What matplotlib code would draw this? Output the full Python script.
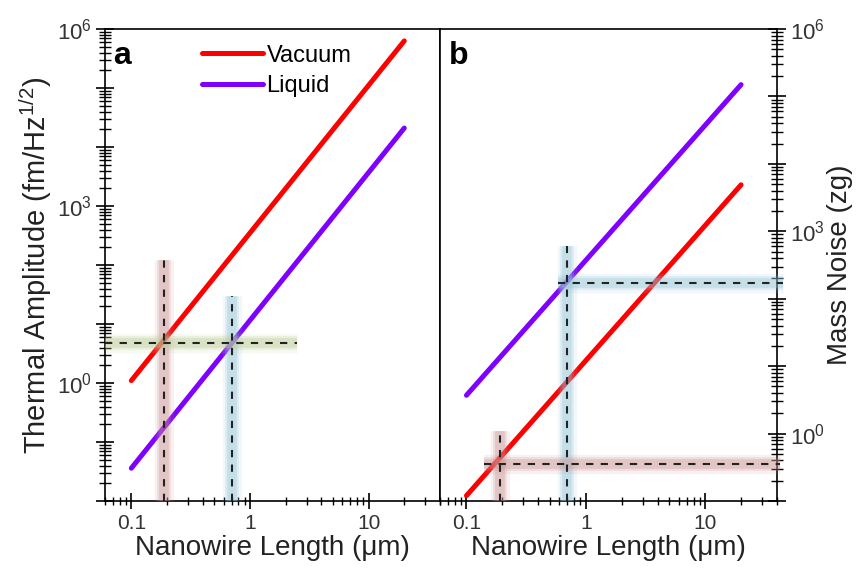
import matplotlib
matplotlib.use('Agg')
import matplotlib.pyplot as plt
from matplotlib.ticker import LogLocator, FuncFormatter, NullFormatter
import numpy as np

plt.rcParams['font.family'] = ['Liberation Sans', 'DejaVu Sans']
plt.rcParams['mathtext.fontset'] = 'custom'
plt.rcParams['mathtext.rm'] = 'Liberation Sans'
plt.rcParams['mathtext.it'] = 'Liberation Sans:italic'
plt.rcParams['mathtext.bf'] = 'Liberation Sans:bold'

# values (end points of the straight log-log lines)
length_um = [0.1, 20]
amp_vacuum = [1.1, 6.3e5]
amp_liquid = [0.036, 2.1e4]
mass_vacuum = [0.12, 4.9e3]
mass_liquid = [3.7, 1.5e5]

# guide lines: (x0, x1, y0, y1, band colour)
guides_a = [
    (0.19, 0.19, 0.01, 120, '#c98f8f'),
    (0.70, 0.70, 0.01, 30, '#8fc3d6'),
    (0.06, 2.5, 4.8, 4.8, '#b9c98f'),
]
guides_b = [
    (0.70, 0.70, 0.1, 600, '#8fc3d6'),
    (0.58, 45, 170, 170, '#8fc3d6'),
    (0.19, 0.19, 0.1, 1.1, '#c98f8f'),
    (0.14, 42, 0.36, 0.36, '#c98f8f'),
]

red = '#ff0000'
violet = '#7f00ff'

fig = plt.figure(figsize=(8.58, 5.70), dpi=100)
ax1 = fig.add_axes([0.1224, 0.121, 0.3904, 0.828])
ax2 = fig.add_axes([0.5128, 0.121, 0.3928, 0.828])


def decade_fmt(v, pos):
    e = int(round(np.log10(v)))
    if e % 3 == 0:
        return r'$10^{%d}$' % e
    return ''


def x_fmt(v, pos):
    if 0.05 < v < 50:
        return '%g' % v
    return ''


def style(ax, side):
    ax.set_xscale('log')
    ax.set_yscale('log')
    ax.set_xlim(0.06, 40)
    ax.xaxis.set_major_locator(LogLocator(base=10, numticks=10))
    ax.xaxis.set_minor_locator(LogLocator(base=10, subs=np.arange(2, 10), numticks=20))
    ax.xaxis.set_minor_formatter(NullFormatter())
    ax.xaxis.set_major_formatter(FuncFormatter(x_fmt))
    ax.yaxis.set_major_locator(LogLocator(base=10, numticks=20))
    ax.yaxis.set_minor_locator(LogLocator(base=10, subs=np.arange(2, 10), numticks=30))
    ax.yaxis.set_minor_formatter(NullFormatter())
    ax.yaxis.set_major_formatter(FuncFormatter(decade_fmt))
    ax.tick_params(axis='x', which='major', direction='inout', length=12, width=1.2,
                   labelsize=15, top=False, pad=3, labelcolor='#333333')
    ax.tick_params(axis='x', which='minor', direction='inout', length=6, width=1.0, top=False)
    if side == 'left':
        ax.tick_params(axis='y', which='both', left=True, right=False, labelleft=True, labelright=False)
    else:
        ax.tick_params(axis='y', which='both', left=False, right=True, labelleft=False, labelright=True)
    ax.tick_params(axis='y', which='major', direction='inout', length=13, width=1.2, labelsize=16,
                   pad=3, labelcolor='#333333')
    ax.tick_params(axis='y', which='minor', direction='inout', length=8, width=1.0)
    for s in ax.spines.values():
        s.set_linewidth(1.2)
    ax.set_xlabel('Nanowire Length (\u03bcm)', fontsize=20, labelpad=2, color='#222222')


def guide(ax, g):
    x0, x1, y0, y1, c = g
    for lw, a in [(14, 0.12), (10, 0.2), (7, 0.3)]:
        ax.plot([x0, x1], [y0, y1], color=c, lw=lw, alpha=a, solid_capstyle='butt',
                zorder=4, clip_on=False)
    ax.plot([x0, x1], [y0, y1], color='#222222', lw=1.5, ls=(0, (3.5, 3.5)), zorder=5,
            clip_on=False)


# panel a
style(ax1, 'left')
ax1.set_ylim(0.01, 1e6)
ax1.plot(length_um, amp_vacuum, color=red, lw=3.6, solid_capstyle='round', label='Vacuum', zorder=3)
ax1.plot(length_um, amp_liquid, color=violet, lw=3.6, solid_capstyle='round', label='Liquid', zorder=3)
for g in guides_a:
    guide(ax1, g)
ax1.set_ylabel('Thermal Amplitude (fm/Hz$^{1/2}$)', fontsize=21, labelpad=2, color='#222222')
ax1.text(0.025, 0.975, 'a', transform=ax1.transAxes, fontsize=23, fontweight='bold', va='top')
ax1.legend(loc='upper left', bbox_to_anchor=(0.225, 1.012), frameon=False, fontsize=17,
           handlelength=2.6, handletextpad=0.15, labelspacing=0.35)

# panel b
style(ax2, 'right')
ax2.set_ylim(0.1, 1e6)
ax2.plot(length_um, mass_vacuum, color=red, lw=3.6, solid_capstyle='round', zorder=3)
ax2.plot(length_um, mass_liquid, color=violet, lw=3.6, solid_capstyle='round', zorder=3)
for g in guides_b:
    guide(ax2, g)
ax2.yaxis.set_label_position('right')
ax2.set_ylabel('Mass Noise (zg)', fontsize=20, labelpad=1, color='#222222')
ax2.text(0.025, 0.975, 'b', transform=ax2.transAxes, fontsize=23, fontweight='bold', va='top')

fig.savefig('out.png', dpi=100)
